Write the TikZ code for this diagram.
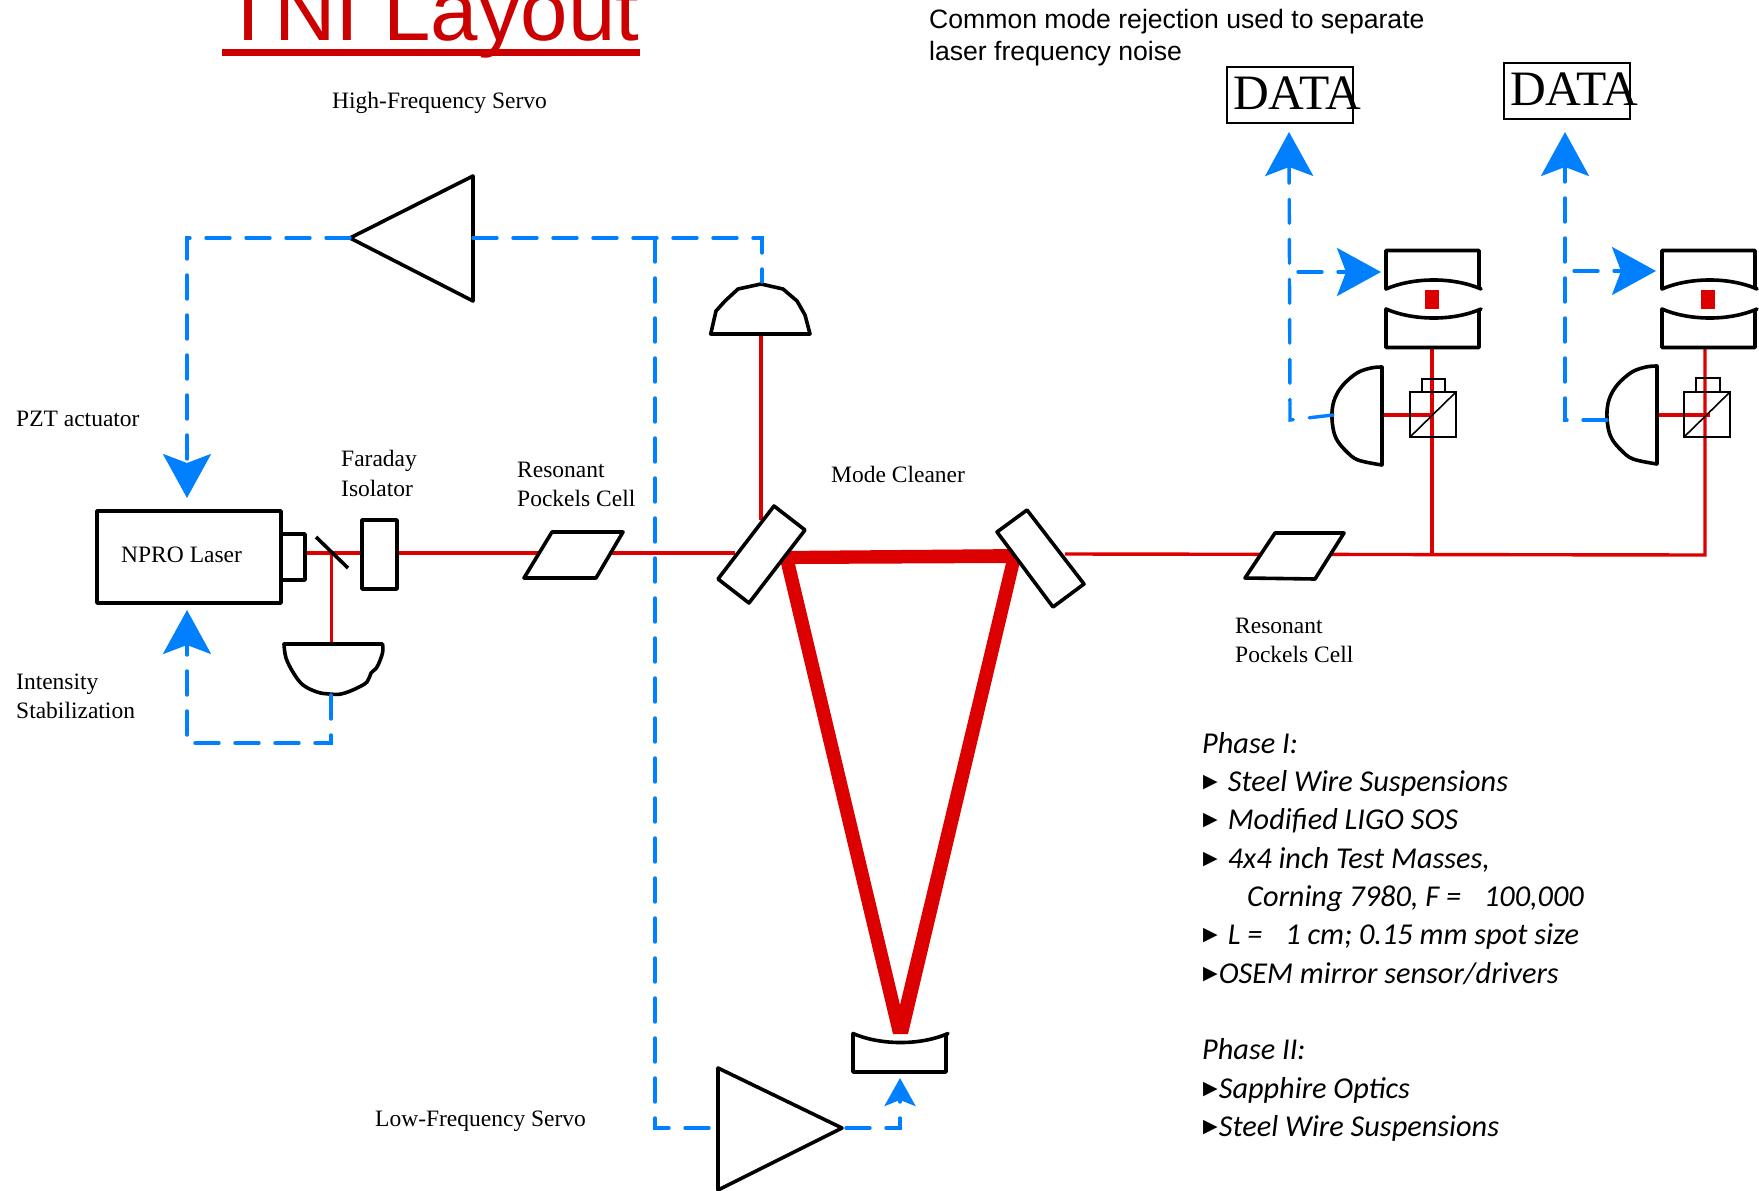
\documentclass[tikz,border=0pt]{standalone}
\usepackage{fontspec}
\setmainfont{Liberation Serif}
\newfontfamily\arialfont{Liberation Sans}
\newfontfamily\phasefont{Carlito}
\newfontfamily\markfont{DejaVu Sans}
\usetikzlibrary{arrows.meta}
\definecolor{beamred}{RGB}{220,0,0}
\definecolor{titlered}{RGB}{204,0,0}
\definecolor{servoblue}{RGB}{0,128,255}
\newcommand{\phasemark}{\raisebox{4pt}{\markfont\fontsize{19}{19}\selectfont\symbol{"25B6}}}
\tikzset{
  optic/.style={draw=black,line width=3.6pt,fill=white,line join=round,outer sep=0pt},
  thinoptic/.style={draw=black,line width=1.6pt},
  beam/.style={draw=beamred,line width=3.4pt},
  servo/.style={draw=servoblue,line width=3.4pt,line cap=round,dash pattern=on 24pt off 16pt},
  bighead/.style={-{Stealth[length=44pt,width=48pt,inset=9pt,fill=servoblue]}},
  smallhead/.style={-{Stealth[length=28pt,width=31pt,inset=6pt,fill=servoblue]}},
  lab/.style={anchor=base west,inner sep=0pt,font=\fontsize{23.5}{29}\selectfont},
  phase/.style={anchor=base west,inner sep=0pt,font=\phasefont\itshape\fontsize{30.3}{38}\selectfont},
  datalab/.style={anchor=base west,inner sep=0pt,font=\fontsize{49.5}{50}\selectfont},
  databox/.style={draw=black,line width=2pt,anchor=north west,inner sep=0pt,outer sep=0pt,minimum width=126pt,minimum height=56pt},
  halfmirror/.pic={
    \draw[optic] (0,0) .. controls (25,11) and (65,13) .. (95,0) -- (93,1) -- (93,38.5) -- (0,38.5) -- cycle;
  },
  sidedet/.pic={
    \draw[optic] plot[smooth,tension=.6] coordinates {(0,0) (-11,1) (-25,6) (-39,18) (-47,31) (-50,45) (-49,61) (-45,73) (-36,84) (-24,93) (0,98)} -- cycle;
  },
  cube/.pic={
    \draw[thinoptic] (0,0) rectangle (46,45);
    \draw[thinoptic] (0,45) -- (46,0);
  }
}
\begin{document}
\begin{tikzpicture}[x=1pt,y=-1pt]
  \useasboundingbox (0,0) rectangle (1759,1191);
  % ports of the optics
  \coordinate (laserout) at (305,553);
  \coordinate (mcin) at (735,553);
  \coordinate (mcout) at (1065,554);
  \coordinate (tapA) at (1432,555);
  \coordinate (tapB) at (1705,555);
  \coordinate (mirrorA) at (1432,347);
  \coordinate (mirrorB) at (1705,347);
  \coordinate (detA) at (1382,415);
  \coordinate (detB) at (1657,415);
  \coordinate (cubeA) at (1432,415);
  \coordinate (cubeB) at (1710,415);
  \coordinate (pick) at (331.5,553);
  \coordinate (lowdet) at (331.5,644);
  \coordinate (topdetin) at (761,520);
  \coordinate (topdetout) at (761,334);
  % red beams
  \draw[beam] (laserout) -- (mcin);
  \draw[beam] (mcout) -- (tapB) -- (mirrorB);
  \draw[beam] (tapA) -- (mirrorA);
  \draw[beam] (detA) -- (cubeA);
  \draw[beam] (detB) -- (cubeB);
  \draw[beam] (pick) -- (lowdet);
  \draw[beam] (topdetin) -- (topdetout);
  \fill[beamred,even odd rule] (778,551) -- (1023,549) -- (908,1034) -- (893,1034) -- cycle
    (795,564) -- (1006,563) -- (900,1005) -- cycle;
  \fill[beamred] (1425,290) rectangle (1439,309);
  \fill[beamred] (1701,290) rectangle (1715,309);
  % left side
  \node[optic,anchor=north west,inner sep=0pt,minimum width=184pt,minimum height=92pt] (laser) at (97,511) {};
  \node[optic,anchor=north west,inner sep=0pt,minimum width=24pt,minimum height=46pt] (head) at (281,534) {};
  \node[optic,anchor=north west,inner sep=0pt,minimum width=35pt,minimum height=69pt] (faraday) at (362,520) {};
  \draw[optic] (316,537) -- (348,568);
  \draw[optic] plot[smooth,tension=.6] coordinates {(284,644) (286,658) (293.5,673) (303,685) (317,692) (329,694) (341,694) (355,689) (367,682) (371,673) (377,667) (382.5,653) (382.5,644)} -- cycle;
  \draw[optic] (552,532) -- (623,532) -- (596,578) -- (524,578) -- cycle;
  % mode cleaner
  \draw[optic] (774,506) -- (805,530) -- (749,603) -- (718,579) -- cycle;
  \draw[optic] (1027,510) -- (1084,584) -- (1053,607) -- (997,532) -- cycle;
  \pic at (853,1033.5) {halfmirror};
  \draw[optic] (710.7,334) -- (716,311) -- (725,301) -- (738,289) -- (761,284) -- (783,289) -- (797,301) -- (805,315) -- (810,334) -- cycle;
  \draw[optic] (1275,533) -- (1344,533) -- (1315,579) -- (1245,578) -- cycle;
  % readout, both arms
  \pic[yscale=-1] at (1386,289) {halfmirror};
  \pic at (1386,309) {halfmirror};
  \pic[yscale=-1] at (1662,289) {halfmirror};
  \pic at (1662,309) {halfmirror};
  \pic at (1382,367) {sidedet};
  \pic at (1657,366) {sidedet};
  \pic at (1410,392) {cube};
  \pic at (1684,392) {cube};
  \draw[thinoptic] (1422,379) rectangle (1445,392);
  \draw[thinoptic] (1696,378) rectangle (1720,392);
  % servo amplifiers
  \coordinate (hfout) at (350,238);
  \coordinate (hfin) at (473,238);
  \coordinate (lfin) at (718,1128);
  \coordinate (lfout) at (842,1128);
  \draw[optic] (hfout) -- (473,176) -- (473,301) -- cycle;
  \draw[optic] (lfout) -- (718,1068) -- (718,1190) -- cycle;
  % servo lines
  \coordinate (pzttip) at (187,498);
  \coordinate (isstip) at (187,610);
  \coordinate (isscorner) at (331,743);
  \coordinate (splitfb) at (655,238);
  \coordinate (topdetin) at (762,282);
  \coordinate (endtip) at (900,1078);
  \coordinate (sensA) at (1333,415);
  \coordinate (sensB) at (1607,420);
  \coordinate (cornerA) at (1290,420);
  \coordinate (cornerB) at (1565,420);
  \coordinate (dataAtip) at (1289,132);
  \coordinate (dataBtip) at (1565,132);
  \coordinate (pushA) at (1298,272);
  \coordinate (pushB) at (1574,271);
  \coordinate (pushAtip) at (1381,272);
  \coordinate (pushBtip) at (1656,271);
  \draw[servo,bighead] (hfout) -| (pzttip);
  \draw[servo] (hfin) -| (topdetin);
  \draw[servo] (splitfb) |- (lfin);
  \draw[servo,smallhead] ([xshift=4pt]lfout) -| (endtip);
  \draw[servo,bighead] (331,695) -- (isscorner) -| (isstip);
  \draw[servo,bighead] (sensA) -- (cornerA) -- (dataAtip);
  \draw[servo,bighead] (sensB) -- (cornerB) -- (dataBtip);
  \draw[servo,bighead] (pushA) -- (pushAtip);
  \draw[servo,bighead] (pushB) -- (pushBtip);
  % data boxes
  \node[databox] (dataA) at (1227,67) {};
  \node[databox] (dataB) at (1504,63) {};
  \node[datalab] (dataAlab) at (1233,109) {DATA};
  \node[datalab] (dataBlab) at (1510,105) {DATA};
  % texts
  \node[anchor=base west,inner sep=0pt,text=titlered,font=\arialfont\fontsize{85.3}{90}\selectfont] (title) at (222,40) {TNI Layout};
  \draw[titlered,line width=7pt] ([yshift=-12.5pt]title.base west) -- ([yshift=-12.5pt]title.base east);
  \node[anchor=base west,inner sep=0pt,font=\arialfont\fontsize{26.6}{32}\selectfont] (common) at (929,28) {Common mode rejection used to separate};
  \node[anchor=base west,inner sep=0pt,font=\arialfont\fontsize{26.6}{32}\selectfont] (common2) at (929,60) {laser frequency noise};
  \node[lab] (hflab) at (332,108) {High-Frequency Servo};
  \node[lab] (lflab) at (375,1126) {Low-Frequency Servo};
  \node[lab] (pztlab) at (16,426) {PZT actuator};
  \node[lab] (farlab) at (341,466) {Faraday};
  \node[lab] (farlab2) at (341,496) {Isolator};
  \node[lab] (pockAlab) at (517,477) {Resonant};
  \node[lab] (pockAlab2) at (517,506) {Pockels Cell};
  \node[lab] (mclab) at (831,482) {Mode Cleaner};
  \node[lab] (nprolab) at (121,562) {NPRO Laser};
  \node[lab] (isslab) at (16,689) {Intensity};
  \node[lab] (isslab2) at (16,718) {Stabilization};
  \node[lab] (pockBlab) at (1235,633) {Resonant};
  \node[lab] (pockBlab2) at (1235,662) {Pockels Cell};
  % phase list
  \node[phase] (ph1) at (1202,753.5) {Phase I:};
  \node[phase] (ph1a) at (1203,791.5) {\phasemark\hspace{10pt}Steel Wire Suspensions};
  \node[phase] (ph1b) at (1203,829.5) {\phasemark\hspace{10pt}Modified LIGO SOS};
  \node[phase] (ph1c) at (1203,868.5) {\phasemark\hspace{10pt}4x4 inch Test Masses,};
  \node[phase] (ph1d) at (1247,906.5) {Corning 7980, F = \hspace{16pt}100,000};
  \node[phase] (ph1e) at (1203,944.5) {\phasemark\hspace{10pt}L = \hspace{16pt}1 cm; 0.15 mm spot size};
  \node[phase] (ph1f) at (1203,983.5) {\phasemark\hspace{1pt}OSEM mirror sensor/drivers};
  \node[phase] (ph2) at (1202,1059.5) {Phase II:};
  \node[phase] (ph2a) at (1203,1098.5) {\phasemark\hspace{1pt}Sapphire Optics};
  \node[phase] (ph2b) at (1203,1136.5) {\phasemark\hspace{1pt}Steel Wire Suspensions};
\end{tikzpicture}
\end{document}
